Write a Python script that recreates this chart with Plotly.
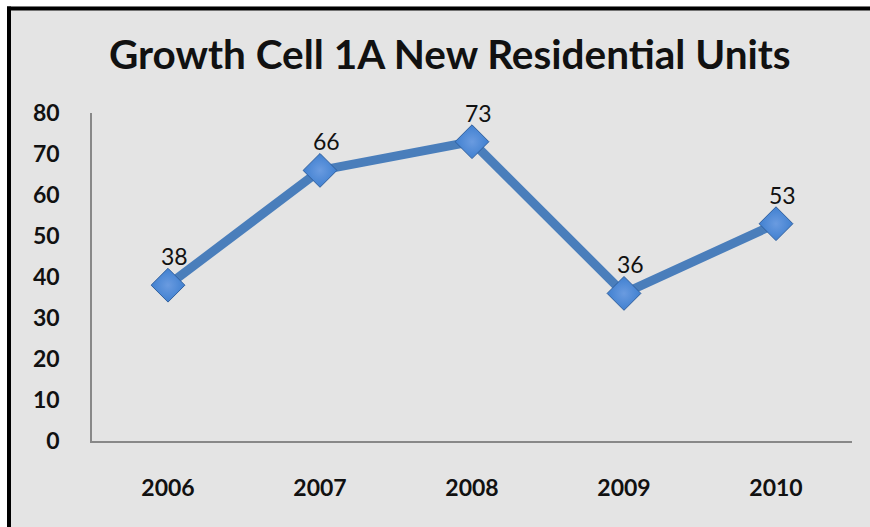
import plotly.graph_objects as go

years = ["2006", "2007", "2008", "2009", "2010"]
units = [38, 66, 73, 36, 53]
y_ticks = [0, 10, 20, 30, 40, 50, 60, 70, 80]
title_text = "Growth Cell 1A New Residential Units"

W, H = 870, 527
ml, mr, mt, mb = 92, 18, 113, 86
pw, ph = W - ml - mr, H - mt - mb

fig = go.Figure()
fig.add_trace(go.Scatter(
    x=list(range(len(years))), y=units, mode="lines+markers",
    line=dict(color="#4a7ebb", width=9),
    marker=dict(symbol="diamond", size=26, color="#4080d0",
                line=dict(color="#2f5f9e", width=1),
                gradient=dict(type="radial", color="#6a9be0")),
    hoverinfo="skip", showlegend=False,
))

for i, v in enumerate(units):
    fig.add_annotation(x=i, y=v, text=str(v), showarrow=False,
                       xshift=6, yshift=29,
                       font=dict(family="Lato", size=23, color="#111"))

def px_x(px):
    return (px - ml) / pw

def px_y(py):
    return (H - mb - py) / ph

# white strip outside the frame (top and left)
fig.add_shape(type="rect", xref="paper", yref="paper", layer="below",
              x0=px_x(-5), x1=px_x(7), y0=px_y(H + 5), y1=px_y(-5),
              fillcolor="white", line=dict(width=0))
fig.add_shape(type="rect", xref="paper", yref="paper", layer="below",
              x0=px_x(-5), x1=px_x(W + 5), y0=px_y(6.5), y1=px_y(-5),
              fillcolor="white", line=dict(width=0))
# black frame: only top and left edges visible in the reference
fig.add_shape(type="line", xref="paper", yref="paper",
              x0=px_x(9), x1=px_x(9), y0=px_y(H + 5), y1=px_y(6.5),
              line=dict(color="black", width=4))
fig.add_shape(type="line", xref="paper", yref="paper",
              x0=px_x(7), x1=px_x(W + 5), y0=px_y(8.5), y1=px_y(8.5),
              line=dict(color="black", width=4))

fig.update_layout(
    width=W, height=H,
    margin=dict(l=ml, r=mr, t=mt, b=mb),
    paper_bgcolor="#e4e4e4", plot_bgcolor="rgba(0,0,0,0)",
    title=dict(text=title_text, x=0.517, xanchor="center", y=1 - 55 / H, yanchor="middle",
               font=dict(family="Lato", size=40.5, color="#111", weight="bold")),
    xaxis=dict(range=[-0.5, 4.5], tickvals=list(range(len(years))), ticktext=years,
               showgrid=False, zeroline=False,
               showline=True, linecolor="#888", linewidth=1.5, ticks="",
               ticklabelstandoff=26,
               tickfont=dict(family="Lato", size=23, color="#111", weight="bold")),
    yaxis=dict(range=[0, 80], tickvals=y_ticks, showgrid=False, zeroline=False,
               showline=True, linecolor="#888", linewidth=1.5, ticks="",
               ticklabelstandoff=26,
               tickfont=dict(family="Lato", size=23, color="#111", weight="bold")),
)

fig.write_html("out.html",
               config={"displayModeBar": False},
               post_script="document.body.style.margin='0';"
                           "document.documentElement.style.overflow='hidden';")
